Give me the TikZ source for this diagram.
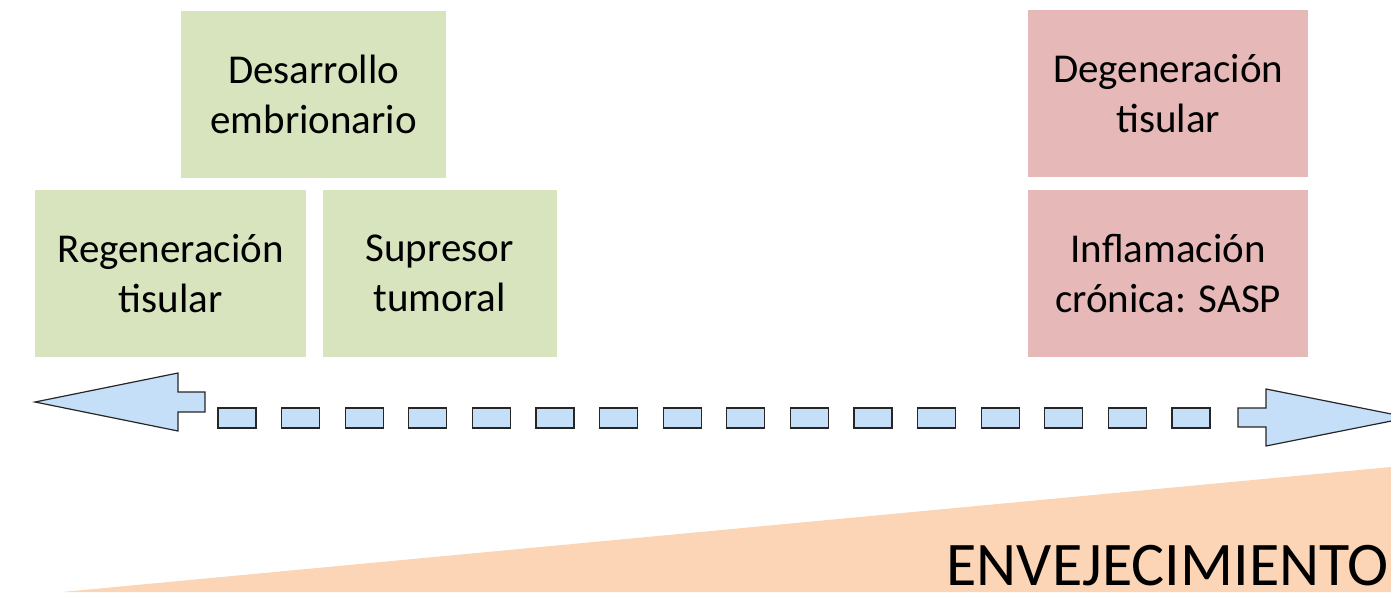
\documentclass[tikz,border=0pt]{standalone}
\usepackage{fontspec}
\setmainfont{Carlito}
\usetikzlibrary{positioning}

\definecolor{boxgreen}{HTML}{D7E4BD}
\definecolor{boxpink}{HTML}{E6B9B8}
\definecolor{arrowblue}{HTML}{C5DFF8}
\definecolor{wedgepeach}{HTML}{FBD5B5}

\begin{document}
\begin{tikzpicture}[
        x=1pt, y=-1pt,
        node distance=12pt,
        every node/.style={font=\fontsize{41}{50}\selectfont, inner sep=0pt, align=center},
        goodbox/.style={rectangle, fill=boxgreen, minimum height=167pt},
        badbox/.style={rectangle, fill=boxpink, minimum width=280pt, minimum height=167pt},
        arrowpart/.style={draw=black!85, fill=arrowblue, line width=1.2pt, line join=miter},
        wedge/.style={fill=wedgepeach}
    ]
        \useasboundingbox (0,0) rectangle (1391,592);
        \clip (0,0) rectangle (1391,592);
        % Ageing wedge
        \fill[wedge] (62,592) -- (1391,467) -- (1391,592) -- cycle;
        \node[anchor=base east, text depth=0pt, font=\fontsize{62}{70}\selectfont] (aging) at (1389,585) {ENVEJECIMIENTO};
        % Beneficial effects
        \node[goodbox, minimum width=265pt, anchor=north west] (embryo) at (181,11) {Desarrollo\\embrionario};
        \node[goodbox, minimum width=271pt, anchor=north west] (regen) at (35,190) {Regeneración\\tisular};
        \node[goodbox, minimum width=234pt, right=16pt of regen] (tumor) {Supresor\\tumoral};
        % Detrimental effects
        \node[badbox, anchor=north west] (degen) at (1028,10) {Degeneración\\tisular};
        \node[badbox, below=12pt of degen] (sasp) {Inflamación\\crónica: SASP};
        % Double arrow
        \draw[arrowpart] (35,402) -- (178,373) -- (178,392) -- (205,392) -- (205,412)
            -- (178,412) -- (178,431) -- cycle;
        \foreach \i in {0,...,15}
            \draw[arrowpart] ({218+63.6*\i},408) rectangle ++(38,20);
        \draw[arrowpart] (1238,408) -- (1266,408) -- (1266,389) -- (1409,417.5)
            -- (1266,446) -- (1266,427) -- (1238,427) -- cycle;
    \end{tikzpicture}
\end{document}
